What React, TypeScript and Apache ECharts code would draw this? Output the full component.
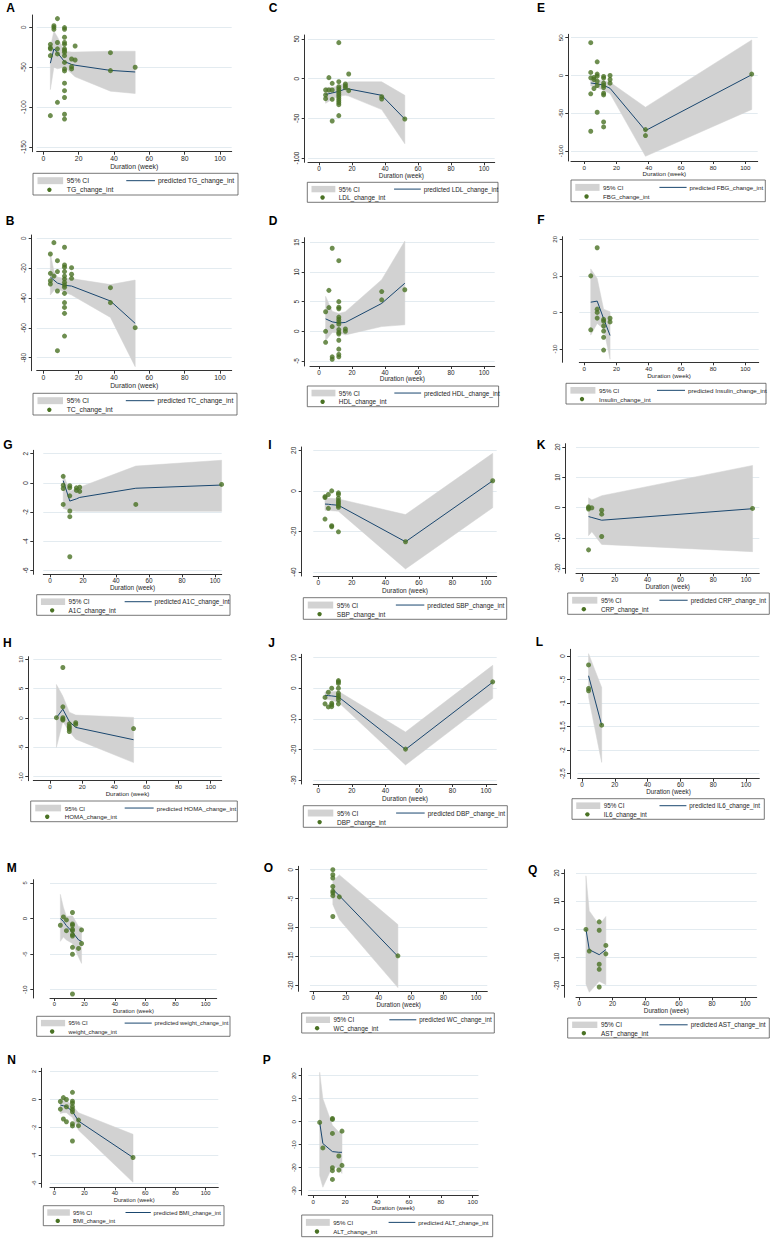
import React, { useEffect, useRef } from "react";
import * as echarts from "echarts";

// ---------- DATA (x = duration in weeks) ----------
// points: [duration, change]; fit rows: [duration, lower CI, predicted, upper CI]
const TG_points = [[4,-110.7],[4,-21.3],[4,-25.5],[4,-27],[4,-35.5],[6,2],[6,0],[6,-2.5],[8,10.9],[8,-19],[8,-27],[8,-33.4],[8,-94],[12,-0.4],[12,-2.5],[12,-12.5],[12,-19],[12,-21.3],[12,-27],[12,-29],[12,-31.3],[12,-35.5],[12,-44],[12,-52.2],[12,-54.7],[12,-70],[12,-79.4],[12,-88],[12,-109],[12,-115],[16,-39.7],[16,-49.3],[16,-52.2],[18,-23.4],[18,-41],[38,-31.8],[38,-54.3],[52,-50.1]];
const TG_fit = [[4,-78,-45,-25],[6,-50,-27,-5],[8,-52,-32,-12],[12,-50,-43,-30],[16,-58,-46.5,-31],[18,-62,-47.5,-31],[38,-80,-54,-30],[52,-83,-56,-30]];
const TG_yticks = [-150,-100,-50,0];

const TC_points = [[4,-10.5],[4,-23.5],[4,-28.4],[4,-30.6],[6,-2.9],[6,-25.3],[8,-15],[8,-22.3],[8,-35.3],[8,-75.3],[12,-6],[12,-17.9],[12,-19.4],[12,-22.3],[12,-25.3],[12,-27.3],[12,-29.5],[12,-31.3],[12,-32.8],[12,-36.9],[12,-43.1],[12,-46.3],[12,-50.3],[12,-65.5],[16,-19.7],[16,-24.1],[16,-26.8],[38,-33.1],[38,-43.1],[52,-59.9]];
const TC_fit = [[4,-38,-26,-10],[6,-35,-28,-22],[8,-34,-30,-26],[12,-36,-31.5,-27],[16,-38,-32,-27],[38,-53,-42,-31],[52,-86,-57,-28]];
const TC_yticks = [-80,-60,-40,-20,0];

const LDL_points = [[4,-14.3],[4,-20.6],[4,-25.2],[6,1.3],[6,-14.3],[8,-5.9],[8,-14.3],[8,-26],[8,-53.4],[12,45.4],[12,-3.8],[12,-10.1],[12,-12.6],[12,-15],[12,-17.6],[12,-20.2],[12,-22.7],[12,-25.2],[12,-27.7],[12,-30.3],[12,-32.8],[12,-46.6],[16,-6.7],[16,-9.2],[16,-11.3],[18,5.9],[18,-15.1],[38,-22.7],[38,-25.6],[52,-50.8]];
const LDL_fit = [[4,-31,-20,-11],[8,-26,-18,-11],[12,-22,-16,-9],[16,-21,-13,-5],[18,-22,-13,-4],[38,-39,-21,-4],[52,-82,-51,-21]];
const LDL_yticks = [-100,-50,0,50];

const HDL_points = [[4,3.3],[4,0],[4,-1.85],[6,6.9],[6,4.0],[8,14.0],[8,0.8],[8,-4.3],[8,-4.7],[12,11.9],[12,5.0],[12,4.05],[12,3.8],[12,2.4],[12,2.0],[12,1.6],[12,1.2],[12,0.3],[12,-0.2],[12,-0.45],[12,-1.5],[12,-3.0],[12,-3.9],[12,-4.3],[16,0.4],[16,0],[38,6.7],[38,5.3],[52,7.0]];
const HDL_fit = [[4,-1.6,2.1,5.9],[8,-0.2,1.6,3.4],[12,-0.2,1.4,3.0],[16,-0.6,1.5,3.3],[38,0.8,4.7,8.7],[52,1.1,8.1,15.2]];
const HDL_yticks = [-5,0,5,10,15];

const FBG_points = [[4,43.4],[4,4],[4,-3.1],[4,-24.3],[4,-73.9],[6,-2.7],[6,-5.3],[6,-17.3],[8,18.1],[8,1.8],[8,-0.9],[8,-7.5],[8,-13.3],[8,-48.7],[12,-1.3],[12,-3.5],[12,-10.2],[12,-13.3],[12,-15.9],[12,-23.5],[12,-25.7],[12,-61.5],[12,-68.1],[16,0],[16,-5.3],[16,-10.2],[38,-71.7],[38,-79.6],[104,1.8]];
const FBG_fit = [[4,-14,-10,-6],[8,-16,-11,-6],[12,-20,-13,-7],[16,-24,-17,-9],[38,-107,-73,-42],[104,-45,1,47]];
const FBG_yticks = [-100,-50,0,50];

const INS_points = [[4,10],[4,-4.75],[8,17.7],[8,0.9],[8,0],[8,-1.55],[12,-1.9],[12,-2.4],[12,-3.7],[12,-5.1],[12,-6.8],[12,-10.3],[16,-1.6],[16,-2.6]];
const INS_fit = [[4,-6.2,2.8,11.9],[8,-3,3.1,9.3],[12,-4.5,-1.7,0.9],[16,-12.8,-6.3,0.2]];
const INS_yticks = [-10,0,10,20];

const A1C_points = [[8,0.45],[8,-0.16],[8,-0.39],[8,-1.48],[12,-0.2],[12,-0.34],[12,-0.89],[12,-1.93],[12,-2.32],[12,-5.07],[16,-0.34],[16,-0.52],[18,-0.3],[18,-0.59],[52,-1.48],[104,-0.11]];
const A1C_fit = [[8,-1.75,0.15,0.6],[12,-1.9,-1.25,-0.6],[16,-1.95,-1.1,-0.35],[18,-1.95,-1.0,-0.3],[52,-1.95,-0.37,1.15],[104,-1.95,-0.15,1.55]];
const A1C_yticks = [-6,-4,-2,0,2];

const HOMA_points = [[4,0.05],[8,8.6],[8,1.9],[8,0.05],[8,-0.2],[8,-0.35],[12,-1.0],[12,-1.4],[12,-1.65],[12,-1.9],[12,-2.3],[16,-0.8],[16,-1.1],[52,-1.8]];
const HOMA_fit = [[4,-5,0.05,5.7],[8,-0.6,1.5,3.7],[12,-2.3,-0.6,1.0],[16,-3.6,-1.6,0.5],[52,-7.6,-3.7,0.1]];
const HOMA_yticks = [-10,-5,0,5,10];

const SBP_points = [[4,-2.8],[4,-3.3],[4,-13.9],[6,-1.8],[6,-8.6],[8,0],[8,-17.2],[8,-17.7],[12,-1],[12,-1.8],[12,-3.6],[12,-4.8],[12,-5.6],[12,-6.4],[12,-7.3],[12,-8.1],[12,-20.2],[52,-25.1],[104,5]];
const SBP_fit = [[4,-9.6,-6.5,-3.5],[6,-9.7,-6.6,-3.6],[8,-9.8,-6.8,-3.7],[12,-10,-7.1,-4],[52,-38.5,-25.1,-11.7],[104,-8.3,5,18.5]];
const SBP_yticks = [-40,-20,0,20];

const DBP_points = [[4,-3.0],[4,-5.1],[6,-1.3],[6,-6.1],[8,0],[8,-4.9],[8,-5.4],[8,-6.0],[12,2.5],[12,2.1],[12,1.6],[12,0],[12,-1.6],[12,-2.4],[12,-3.0],[12,-3.8],[12,-5.1],[52,-19.9],[104,2.1]];
const DBP_fit = [[4,-3.5,-2.3,-1.2],[6,-3.7,-2.4,-1.1],[8,-3.9,-2.5,-1.1],[12,-4.6,-2.8,-1],[52,-25.1,-20,-14.3],[104,-3.3,2,7.5]];
const DBP_yticks = [-30,-20,-10,0,10];

const CRP_points = [[4,0.2],[4,-0.1],[4,-0.5],[4,-14],[6,-0.1],[12,-0.9],[12,-2.2],[12,-9.6],[104,-0.3]];
const CRP_fit = [[4,-9.3,-3,3.2],[6,-8,-3.3,2.5],[12,-12.2,-4.2,3.9],[104,-14.6,-0.4,13.9]];
const CRP_yticks = [-20,-10,0,10,20];

const IL6_points = [[4,-0.19],[4,-0.69],[4,-0.74],[12,-1.47]];
const IL6_fit = [[4,-0.87,-0.42,0.05],[12,-2.26,-1.47,-0.67]];
const IL6_yticks = [-2.5,-2,-1.5,-1,-0.5,0];

const WT_points = [[4,-0.94],[6,0.23],[8,-0.19],[8,-1.7],[12,0.85],[12,-0.75],[12,-0.94],[12,-1.5],[12,-1.7],[12,-2.25],[12,-2.45],[12,-4.04],[12,-5.02],[12,-10.6],[16,-4.2],[18,-1.6],[18,-3.5]];
const WT_fit = [[4,-3.2,0,3.4],[6,-2.6,-0.4,1.6],[8,-3.0,-1,0.3],[12,-3.5,-1.9,0.4],[16,-5.4,-3,-1.1],[18,-6.3,-3.2,-1.2]];
const WT_yticks = [-10,-5,0,5];

const WC_points = [[12,0],[12,-0.86],[12,-1.44],[12,-2.9],[12,-3.7],[12,-4.0],[12,-4.5],[12,-8.1],[16,-4.7],[52,-14.9]];
const WC_fit = [[12,-6,-3.4,-2],[16,-8.6,-4.5,-0.9],[52,-20.4,-15,-9.5]];
const WC_yticks = [-20,-15,-10,-5,0];

const AST_points = [[4,-0.1],[6,-7.8],[12,2.6],[12,-0.4],[12,-12.5],[12,-14.3],[12,-20.6],[16,-5.8],[16,-8.8]];
const AST_fit = [[4,-19.5,0,19],[6,-22.5,-7.3,6.5],[12,-18.6,-9.1,1.5],[16,-19.8,-7.3,4.5]];
const AST_yticks = [-20,-10,0,10,20];

const BMI_points = [[4,-0.14],[4,-0.69],[6,0.14],[6,-1.4],[8,0],[8,-0.52],[8,-1.6],[12,0.52],[12,-0.12],[12,-0.26],[12,-0.52],[12,-0.71],[12,-0.88],[12,-1.74],[12,-1.9],[12,-2.98],[16,-1.48],[16,-1.88],[52,-4.17]];
const BMI_fit = [[4,-1.0,-0.4,0.1],[6,-0.95,-0.45,0.05],[8,-0.95,-0.5,-0.05],[12,-1.3,-0.85,-0.45],[16,-2.2,-1.55,-0.95],[52,-5.95,-4.17,-2.5]];
const BMI_yticks = [-6,-4,-2,0,2];

const ALT_points = [[4,-0.3],[6,-11.4],[12,1.4],[12,1.0],[12,-5.1],[12,-20],[12,-21.3],[12,-25.1],[16,-14.9],[16,-21],[18,-4.1],[18,-19]];
const ALT_fit = [[4,-23.5,-0.3,21.5],[6,-28.5,-9.5,10],[12,-19.5,-13,-1.5],[16,-20,-13.3,-4.5],[18,-22.5,-13.3,-4]];
const ALT_yticks = [-30,-20,-10,0,10,20];

const X_TICKS = [0, 20, 40, 60, 80, 100];

// ---------- PANELS (content) ----------
const PANELS = [
  { letter: "A", name: "TG", points: TG_points, fit: TG_fit, yticks: TG_yticks },
  { letter: "B", name: "TC", points: TC_points, fit: TC_fit, yticks: TC_yticks },
  { letter: "C", name: "LDL", points: LDL_points, fit: LDL_fit, yticks: LDL_yticks },
  { letter: "D", name: "HDL", points: HDL_points, fit: HDL_fit, yticks: HDL_yticks },
  { letter: "E", name: "FBG", points: FBG_points, fit: FBG_fit, yticks: FBG_yticks },
  { letter: "F", name: "Insulin", points: INS_points, fit: INS_fit, yticks: INS_yticks },
  { letter: "G", name: "A1C", points: A1C_points, fit: A1C_fit, yticks: A1C_yticks },
  { letter: "I", name: "SBP", points: SBP_points, fit: SBP_fit, yticks: SBP_yticks },
  { letter: "K", name: "CRP", points: CRP_points, fit: CRP_fit, yticks: CRP_yticks },
  { letter: "H", name: "HOMA", points: HOMA_points, fit: HOMA_fit, yticks: HOMA_yticks },
  { letter: "J", name: "DBP", points: DBP_points, fit: DBP_fit, yticks: DBP_yticks },
  { letter: "L", name: "IL6", points: IL6_points, fit: IL6_fit, yticks: IL6_yticks },
  { letter: "M", name: "weight", points: WT_points, fit: WT_fit, yticks: WT_yticks },
  { letter: "O", name: "WC", points: WC_points, fit: WC_fit, yticks: WC_yticks },
  { letter: "Q", name: "AST", points: AST_points, fit: AST_fit, yticks: AST_yticks },
  { letter: "N", name: "BMI", points: BMI_points, fit: BMI_fit, yticks: BMI_yticks },
  { letter: "P", name: "ALT", points: ALT_points, fit: ALT_fit, yticks: ALT_yticks },
];

// ---------- LAYOUT (pixels) ----------
// yl: y-axis line x; gl/gr: plot region left/right; gt/gb: top/bottom;
// x0/x100: pixel of duration 0/100; ya@va, yb@vb: pixel of two y values; lg: legend box; lt: letter pos
const LAYOUT: Record<string, any> = {
  A: { yl: 32.3, gl: 36.7, gr: 231.7, gt: 15, gb: 151.7, x0: 43.3, x100: 220, ya: 27.3, va: 0, yb: 147, vb: -150, lg: [33, 173.3, 205, 21.7], lt: [10.5, 7.5] },
  B: { yl: 31.7, gl: 36.7, gr: 231.7, gt: 235, gb: 370.7, x0: 43.3, x100: 220, ya: 238.3, va: 0, yb: 357.7, vb: -80, lg: [33, 393.3, 204, 21.7], lt: [10, 221] },
  C: { yl: 304.7, gl: 308, gr: 494.7, gt: 35, gb: 162.3, x0: 319, x100: 484, ya: 39, va: 50, yb: 158, vb: -100, lg: [307.3, 182.3, 190.7, 20], lt: [273, 8] },
  D: { yl: 304.7, gl: 310, gr: 494.7, gt: 237.7, gb: 366, x0: 319, x100: 484, ya: 242.3, va: 15, yb: 361, vb: -5, lg: [307.3, 386, 191.3, 20.7], lt: [273, 221] },
  E: { yl: 568.3, gl: 571, gr: 757.7, gt: 34.3, gb: 161, x0: 584.3, x100: 745.3, ya: 37.7, va: 50, yb: 151, vb: -100, lg: [571, 180, 194.3, 21.7], lt: [541, 8] },
  F: { yl: 562.7, gl: 579.3, gr: 758.7, gt: 236.7, gb: 362.3, x0: 584.3, x100: 745.3, ya: 239.3, va: 20, yb: 349, vb: -10, lg: [566, 383.3, 200, 20.7], lt: [541, 220] },
  G: { yl: 33.3, gl: 43.3, gr: 221.7, gt: 450.3, gb: 574.3, x0: 50, x100: 215, ya: 453.7, va: 2, yb: 570.3, vb: -6, lg: [36.7, 594.7, 193.3, 20.6], lt: [8, 444.7] },
  I: { yl: 301.7, gl: 313.3, gr: 496.7, gt: 447, gb: 576, x0: 318.3, x100: 486, ya: 450.3, va: 20, yb: 572, vb: -40, lg: [303.3, 597.7, 203.4, 21.6], lt: [270, 444.7] },
  K: { yl: 565.3, gl: 576, gr: 759.3, gt: 443.7, gb: 573.3, x0: 582, x100: 746, ya: 447, va: 20, yb: 568, vb: -20, lg: [567.7, 593, 201.6, 21.3], lt: [541, 445.3] },
  H: { yl: 28.3, gl: 33.3, gr: 221.7, gt: 656.7, gb: 780.7, x0: 50, x100: 210.7, ya: 659.3, va: 10, yb: 776.7, vb: -10, lg: [30.7, 801, 206.6, 20.7], lt: [7.3, 642.7] },
  J: { yl: 301.7, gl: 313.3, gr: 496.7, gt: 654.3, gb: 784, x0: 318.3, x100: 486, ya: 657.7, va: 10, yb: 780, vb: -30, lg: [303.3, 805.7, 204, 21.6], lt: [271.7, 642.7] },
  L: { yl: 570, gl: 577.7, gr: 759.3, gt: 649.3, gb: 778.7, x0: 582, x100: 746, ya: 656, va: 0, yb: 773.7, vb: -2.5, lg: [572, 798.7, 192.3, 20.6], lt: [539.3, 642] },
  M: { yl: 33.3, gl: 50, gr: 216.7, gt: 879.7, gb: 998, x0: 54.3, x100: 205.7, ya: 883, va: 5, yb: 989.7, vb: -10, lg: [36.7, 1016.3, 193.3, 20], lt: [11.7, 868] },
  O: { yl: 298.3, gl: 310, gr: 487.3, gt: 866.3, gb: 991.3, x0: 313.3, x100: 476, ya: 869.7, va: 0, yb: 985.3, vb: -20, lg: [301.7, 1013, 192.6, 20], lt: [268.3, 868] },
  Q: { yl: 564.3, gl: 576, gr: 756.7, gt: 869.7, gb: 997.3, x0: 579.3, x100: 745.3, ya: 873, va: 20, yb: 985.3, vb: -20, lg: [567.7, 1018, 201.6, 20], lt: [532.7, 869.7] },
  N: { yl: 41.7, gl: 50, gr: 218.3, gt: 1068.3, gb: 1187.3, x0: 54.3, x100: 205.7, ya: 1071.7, va: 2, yb: 1183, vb: -6, lg: [43.3, 1205.7, 180.7, 20], lt: [11.7, 1060] },
  P: { yl: 301.7, gl: 308.3, gr: 478.3, gt: 1068.3, gb: 1195, x0: 313.3, x100: 472.7, ya: 1075.7, va: 20, yb: 1190.7, vb: -30, lg: [301.7, 1215, 191, 21.7], lt: [266.7, 1060] },
};

const FONT = '"Liberation Sans", Arial, Helvetica, sans-serif';
const C_BAND = "#d2d2d2";
const C_LINE = "#1a476f";
const C_DOT = "#4a7224";
const C_GRID = "#e3ebf0";
const C_AXIS = "#333333";
const C_TEXT = "#1e1e1e";

function fmtStata(v: number) {
  let s = String(Math.round(v * 100) / 100);
  s = s.replace(/^(-?)0\./, "$1.");
  return s;
}

function buildOption() {
  const grid: any[] = [];
  const xAxis: any[] = [];
  const yAxis: any[] = [];
  const series: any[] = [];
  const graphic: any[] = [];

  PANELS.forEach((p, i) => {
    const L = LAYOUT[p.letter];
    const sx = (L.x100 - L.x0) / 100;
    const xmin = (L.gl - L.x0) / sx;
    const xmax = (L.gr - L.x0) / sx;
    const sy = (L.yb - L.ya) / (L.va - L.vb);
    const ymax = L.va + (L.ya - L.gt) / sy;
    const ymin = L.va - (L.gb - L.ya) / sy;
    // text size scales with the panel's own scale (panels were resized differently)
    const fs = Math.round(0.0385 * (L.x100 - L.x0) * 10) / 10;

    grid.push({ left: L.gl, top: L.gt, width: L.gr - L.gl, height: L.gb - L.gt, containLabel: false });

    xAxis.push({
      type: "value", gridIndex: i, min: xmin, max: xmax,
      axisLine: { show: true, onZero: false, lineStyle: { color: C_AXIS, width: 1 } },
      axisTick: { show: true, length: 3, customValues: X_TICKS, lineStyle: { color: C_AXIS, width: 1 } },
      axisLabel: { show: true, customValues: X_TICKS, fontSize: fs, margin: 3, color: C_TEXT, fontFamily: FONT },
      splitLine: { show: false },
      name: "Duration (week)", nameLocation: "middle", nameGap: 9,
      nameTextStyle: { fontSize: fs, color: C_TEXT, fontFamily: FONT },
    });

    yAxis.push({
      type: "value", gridIndex: i, min: ymin, max: ymax, offset: L.gl - L.yl,
      axisLine: { show: true, onZero: false, lineStyle: { color: C_AXIS, width: 1 } },
      axisTick: { show: true, length: 3, customValues: p.yticks, lineStyle: { color: C_AXIS, width: 1 } },
      axisLabel: { show: true, customValues: p.yticks, rotate: 90, fontSize: fs, margin: 5, color: C_TEXT, fontFamily: FONT, formatter: (v: number) => fmtStata(v) },
      splitLine: { show: false },
    });

    // gridlines at y ticks
    series.push({
      type: "line", xAxisIndex: i, yAxisIndex: i, data: [[xmin, ymin]], showSymbol: false, silent: true,
      lineStyle: { opacity: 0 }, z: 1,
      markLine: {
        silent: true, symbol: ["none", "none"], z: 1, animation: false,
        label: { show: false },
        lineStyle: { color: C_GRID, width: 1, type: "solid" },
        data: p.yticks.map((v) => ({ yAxis: v })),
      },
    });

    // confidence band
    const fit = p.fit;
    series.push({
      type: "custom", xAxisIndex: i, yAxisIndex: i, z: 10, silent: true,
      data: fit.map((r) => [r[0], r[1], r[3]]),
      encode: { x: 0, y: [1, 2] },
      renderItem: (params: any, api: any) => {
        if (params.dataIndex !== 0) return null;
        const pts: number[][] = [];
        for (let k = 0; k < fit.length; k++) pts.push(api.coord([fit[k][0], fit[k][3]]));
        for (let k = fit.length - 1; k >= 0; k--) pts.push(api.coord([fit[k][0], fit[k][1]]));
        return { type: "polygon", shape: { points: pts }, style: { fill: C_BAND, stroke: C_BAND, lineWidth: 0.5 } };
      },
    });

    // predicted line
    series.push({
      type: "line", xAxisIndex: i, yAxisIndex: i, z: 11, silent: true,
      data: fit.map((r) => [r[0], r[2]]), showSymbol: false,
      lineStyle: { color: C_LINE, width: 1 },
    });

    // observed points
    series.push({
      type: "scatter", xAxisIndex: i, yAxisIndex: i, z: 12, silent: true,
      data: p.points, symbol: "circle", symbolSize: 5,
      itemStyle: { color: C_DOT },
    });

    // panel letter
    graphic.push({
      type: "text", x: L.lt[0], y: L.lt[1], z: 100,
      style: { text: p.letter, fontSize: 12, fontWeight: "bold", fontFamily: FONT, fill: "#000", align: "center", verticalAlign: "middle" },
    });

    // legend box
    const [lx, ly, lw, lh] = L.lg;
    const r1 = ly + 0.34 * lh;
    const r2 = ly + 0.76 * lh;
    graphic.push({
      type: "group", z: 100,
      children: [
        { type: "rect", shape: { x: lx, y: ly, width: lw, height: lh }, style: { fill: "#ffffff", stroke: "#555555", lineWidth: 0.8 } },
        { type: "rect", shape: { x: lx + 0.022 * lw, y: r1 - 0.16 * lh, width: 0.125 * lw, height: 0.32 * lh }, style: { fill: C_BAND } },
        { type: "text", x: lx + 0.165 * lw, y: r1, style: { text: "95% CI", fontSize: fs, fontFamily: FONT, fill: C_TEXT, verticalAlign: "middle", align: "left" } },
        { type: "line", shape: { x1: lx + 0.455 * lw, y1: r1, x2: lx + 0.595 * lw, y2: r1 }, style: { stroke: C_LINE, lineWidth: 1 } },
        { type: "text", x: lx + 0.61 * lw, y: r1, style: { text: "predicted " + p.name + "_change_int", fontSize: fs, fontFamily: FONT, fill: C_TEXT, verticalAlign: "middle", align: "left" } },
        { type: "circle", shape: { cx: lx + 0.08 * lw, cy: r2, r: 2.2 }, style: { fill: C_DOT } },
        { type: "text", x: lx + 0.165 * lw, y: r2, style: { text: p.name + "_change_int", fontSize: fs, fontFamily: FONT, fill: C_TEXT, verticalAlign: "middle", align: "left" } },
      ],
    });
  });

  return {
    animation: false,
    backgroundColor: "#ffffff",
    textStyle: { fontFamily: FONT },
    grid, xAxis, yAxis, series, graphic,
  };
}

export default function App() {
  const ref = useRef<HTMLDivElement>(null);
  useEffect(() => {
    if (!ref.current) return;
    const chart = echarts.init(ref.current, undefined, { renderer: "svg" });
    chart.setOption(buildOption() as any);
    return () => chart.dispose();
  }, []);
  return (
    <div
      ref={ref}
      style={{ position: "absolute", left: 0, top: 0, width: 776, height: 1240, background: "#fff" }}
    />
  );
}
